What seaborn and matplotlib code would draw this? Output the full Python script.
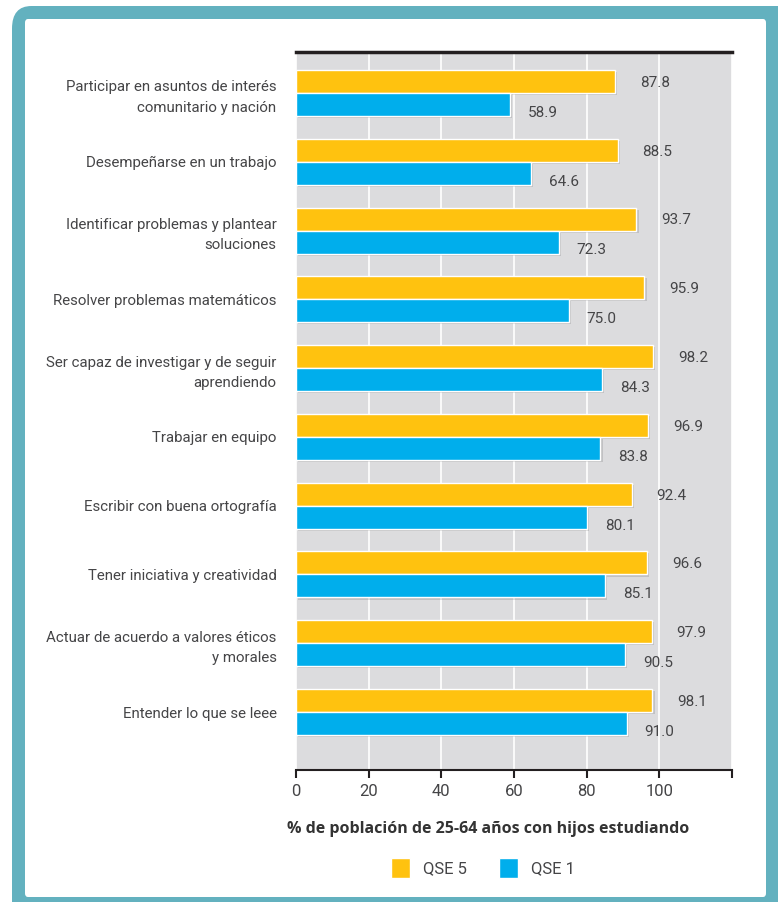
import numpy as np
import pandas as pd
import matplotlib
matplotlib.use("Agg")
import matplotlib.pyplot as plt
import matplotlib.patheffects as pe
from matplotlib.patches import FancyBboxPatch, Patch
import seaborn as sns

# Datos del gráfico
categorias = [
    "Participar en asuntos de interés\ncomunitario y nación",
    "Desempeñarse en un trabajo",
    "Identificar problemas y plantear\nsoluciones",
    "Resolver problemas matemáticos",
    "Ser capaz de investigar y de seguir\naprendiendo",
    "Trabajar en equipo",
    "Escribir con buena ortografía",
    "Tener iniciativa y creatividad",
    "Actuar de acuerdo a valores éticos\ny morales",
    "Entender lo que se leee",
]
qse5 = [87.8, 88.5, 93.7, 95.9, 98.2, 96.9, 92.4, 96.6, 97.9, 98.1]
qse1 = [58.9, 64.6, 72.3, 75.0, 84.3, 83.8, 80.1, 85.1, 90.5, 91.0]
grupos = ["QSE 5", "QSE 1"]
xticks = [0, 20, 40, 60, 80, 100, 120]
xticklabels = ["0", "20", "40", "60", "80", "100", ""]

AMARILLO = "#FFC20F"
AZUL = "#00AEEC"
FONDO = "#DCDCDE"
MARCO = "#63B1BF"
TEXTO = "#454547"

df = pd.DataFrame({
    "categoria": categorias * 2,
    "valor": qse5 + qse1,
    "grupo": [grupos[0]] * len(categorias) + [grupos[1]] * len(categorias),
})

sns.set_theme(style="white")
plt.rcParams["font.family"] = ["Roboto", "DejaVu Sans"]

fig = plt.figure(figsize=(7.78, 9.02), dpi=100, facecolor="white")

# Marco turquesa con esquinas redondeadas
W, H = 778, 902
marco = FancyBboxPatch((12 / W, -0.05), 1.2, 1.05 - 6 / H,
                       boxstyle="round,pad=0,rounding_size=0.025",
                       transform=fig.transFigure, facecolor=MARCO,
                       edgecolor="none", zorder=0)
fig.patches.append(marco)
interior = FancyBboxPatch((25 / W, 1 - 897 / H), (766 - 25) / W, (897 - 19) / H,
                          boxstyle="round,pad=0,rounding_size=0.004",
                          transform=fig.transFigure, facecolor="white",
                          edgecolor="none", zorder=0.5)
fig.patches.append(interior)

ax = fig.add_axes([296 / W, 1 - 770 / H, (732 - 296) / W, (770 - 52) / H])
ax.set_zorder(2)
ax.set_facecolor(FONDO)

sns.barplot(data=df, y="categoria", x="valor", hue="grupo", orient="h",
            palette=[AMARILLO, AZUL], width=0.67, saturation=1,
            ax=ax, legend=False, zorder=3)

for barra in ax.patches:
    barra.set_path_effects([pe.withSimplePatchShadow(offset=(1.5, -1.5),
                                                     shadow_rgbFace="black",
                                                     alpha=0.12)])

# Etiquetas de valores
for cont, pad, dy in zip(ax.containers, [18, 13], [-1, -6]):
    anns = ax.bar_label(cont, fmt="%.1f", padding=pad, fontsize=11, color=TEXTO)
    for a in anns:
        a.xyann = (pad, dy)

ax.set_xlim(0, 120)
ax.set_ylim(9.843, -0.596)
ax.set_xticks(xticks)
ax.set_xticklabels(xticklabels, fontsize=12, color=TEXTO)
ax.xaxis.grid(True, color="white", linewidth=1.2, zorder=1)
ax.set_axisbelow(True)
ax.tick_params(axis="x", direction="out", length=6, width=1.5, color="#231F20",
               bottom=True, pad=4)
ax.tick_params(axis="y", length=0, pad=14, labelsize=10.8, labelcolor=TEXTO)
for lbl in ax.get_yticklabels():
    lbl.set_horizontalalignment("right")
    lbl.set_multialignment("right")
    lbl.set_linespacing(1.55)

for lado in ["left", "right"]:
    ax.spines[lado].set_visible(False)
ax.spines["top"].set_color("#231F20")
ax.spines["top"].set_linewidth(2.5)
ax.spines["bottom"].set_color("#231F20")
ax.spines["bottom"].set_linewidth(1.5)

ax.set_ylabel("")
ax.set_xlabel("")
fig.text(488 / W, 1 - 829 / H, "% de población de 25-64 años con hijos estudiando",
         ha="center", va="center", fontsize=11.5, fontweight="bold",
         color="#333333", family=["Open Sans", "DejaVu Sans"], zorder=3)

# Leyenda
manijas = [Patch(facecolor=AMARILLO, label=grupos[0]),
           Patch(facecolor=AZUL, label=grupos[1])]
leg = fig.legend(handles=manijas, loc="center", bbox_to_anchor=(483 / W, 1 - 868 / H),
                 ncol=2, frameon=False, fontsize=12, handlelength=1.15,
                 handleheight=1.4, columnspacing=1.9, handletextpad=0.8,
                 labelcolor=TEXTO)
leg.set_zorder(3)

fig.savefig("out.png", dpi=100, facecolor=fig.get_facecolor())
